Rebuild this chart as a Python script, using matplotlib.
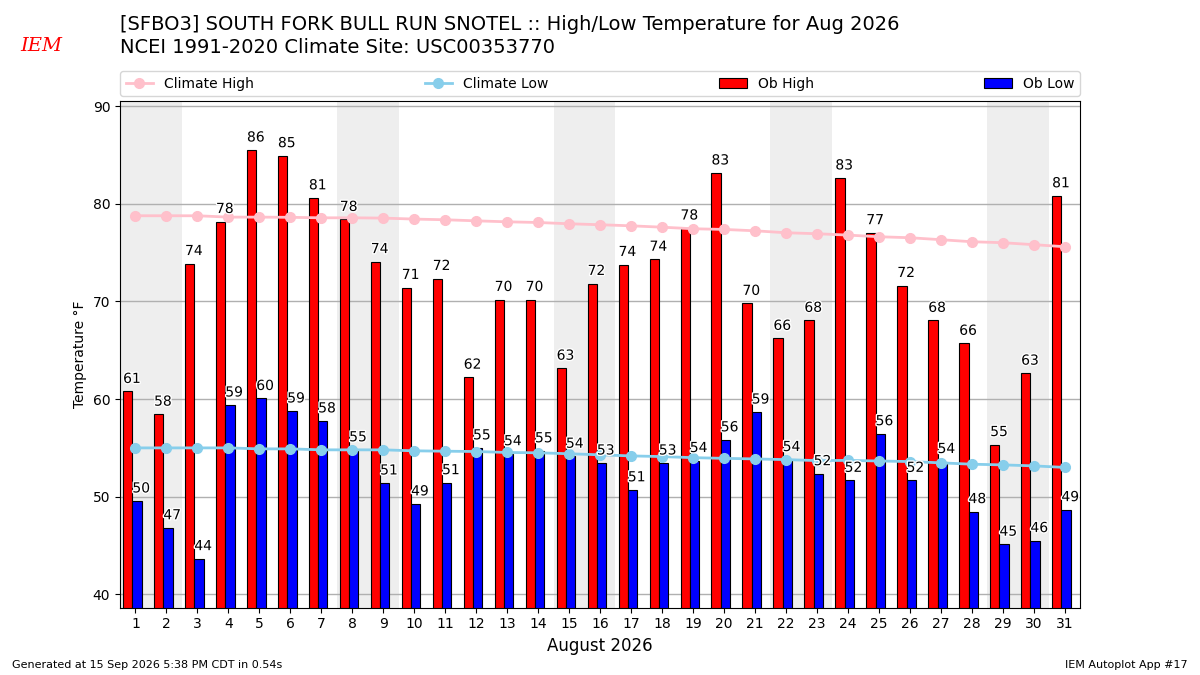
import numpy as np
import matplotlib
matplotlib.use("Agg")
import matplotlib.pyplot as plt
import matplotlib.patheffects as pe

# Daily observed values (August 2026)
days = np.arange(1, 32)
ob_high = [60.78, 58.45, 73.88, 78.19, 85.51, 84.93, 80.61, 78.40, 74.08, 71.43,
           72.35, 62.24, 70.20, 70.20, 63.16, 71.84, 73.78, 74.32, 77.52, 83.16,
           69.80, 66.22, 68.06, 82.65, 77.04, 71.63, 68.06, 65.71, 55.34, 62.65,
           80.82]
ob_low = [49.56, 46.81, 43.65, 59.39, 60.06, 58.78, 57.76, 54.80, 51.40, 49.26,
          51.43, 55.00, 54.40, 54.70, 54.14, 53.45, 50.70, 53.45, 53.70, 55.82,
          58.67, 53.80, 52.35, 51.67, 56.45, 51.67, 53.60, 48.47, 45.13, 45.50,
          48.67]
clim_high = [78.78, 78.78, 78.78, 78.64, 78.64, 78.62, 78.57, 78.57, 78.54, 78.44,
             78.37, 78.26, 78.16, 78.09, 77.96, 77.86, 77.75, 77.61, 77.45, 77.38,
             77.24, 77.04, 76.94, 76.80, 76.63, 76.53, 76.33, 76.12, 76.02, 75.82,
             75.61]
clim_low = [55.0, 55.0, 55.0, 55.0, 54.9, 54.9, 54.8, 54.8, 54.8, 54.7,
            54.66, 54.63, 54.53, 54.5, 54.4, 54.29, 54.18, 54.11, 54.0, 53.93,
            53.87, 53.8, 53.7, 53.72, 53.66, 53.6, 53.47, 53.33, 53.26, 53.16,
            53.0]
weekends = [(1, 2), (8, 9), (15, 16), (22, 23), (29, 30)]

fig = plt.figure(figsize=(12, 6.75), dpi=100)
ax = fig.add_axes([0.1, 0.1, 0.8, 0.75])

for a, b in weekends:
    ax.axvspan(a - 0.5, b + 0.5, color="#EEEEEE", zorder=0, lw=0)

ax.plot(days, clim_high, color="pink", marker="o", ms=7, lw=2,
        label="Climate High", zorder=3)
ax.plot(days, clim_low, color="skyblue", marker="o", ms=7, lw=2,
        label="Climate Low", zorder=3)
ax.bar(days - 0.4, ob_high, width=0.3, align="edge", color="red",
       edgecolor="k", lw=0.8, label="Ob High", zorder=2)
ax.bar(days - 0.1, ob_low, width=0.3, align="edge", color="blue",
       edgecolor="k", lw=0.8, label="Ob Low", zorder=2)

stroke = [pe.withStroke(linewidth=2, foreground="white")]
for d, hi, lo in zip(days, ob_high, ob_low):
    ax.annotate(f"{hi:.0f}", (d - 0.4, hi), xytext=(0, 4), textcoords="offset points",
                ha="left", va="bottom", fontsize=10, path_effects=stroke, zorder=4)
    ax.annotate(f"{lo:.0f}", (d - 0.1, lo), xytext=(0, 4), textcoords="offset points",
                ha="left", va="bottom", fontsize=10, path_effects=stroke, zorder=4)

ax.set_xlim(0.5, 31.5)
ax.set_ylim(min(ob_low) - 5, max(ob_high) + 5)
ax.set_xticks(days)
ax.set_yticks(range(40, 91, 10))
ax.yaxis.grid(True, color="#b0b0b0", lw=1)
ax.set_axisbelow(True)
ax.set_ylabel("Temperature °F")
ax.set_xlabel("August 2026", fontsize=12)

ax.legend(ncol=4, mode="expand", loc="lower left",
          bbox_to_anchor=(0, 1.01, 1, 0.05), borderaxespad=0)

fig.text(0.1, 0.978, "[SFBO3] SOUTH FORK BULL RUN SNOTEL :: High/Low Temperature for Aug 2026\n"
         "NCEI 1991-2020 Climate Site: USC00353770", fontsize=14, va="top", ha="left",
         linespacing=1.3)
fig.text(0.017, 0.925, "IEM", color="red", fontsize=14, style="italic", family="serif")
fig.text(0.01, 0.01, "Generated at 15 Sep 2026 5:38 PM CDT in 0.54s", fontsize=8)
fig.text(0.99, 0.01, "IEM Autoplot App #17", fontsize=8, ha="right")

fig.savefig("out.png")
